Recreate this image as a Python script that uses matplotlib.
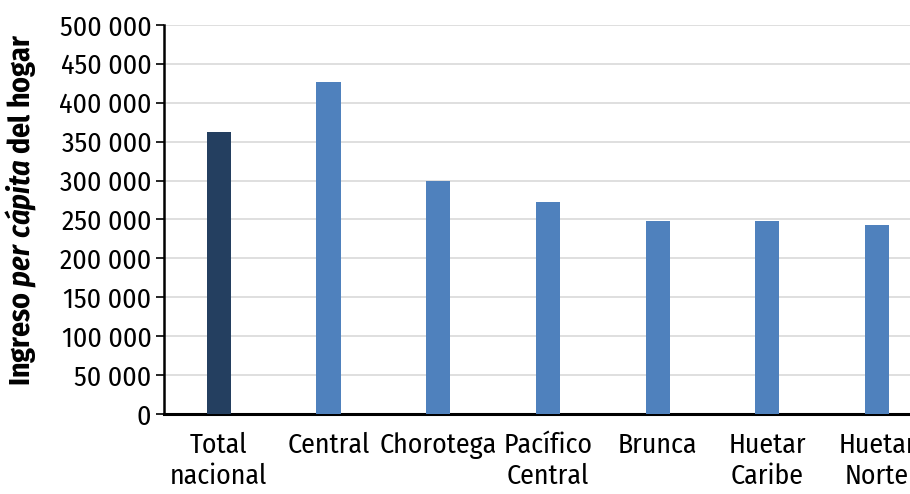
import matplotlib
matplotlib.use("Agg")
import matplotlib.pyplot as plt
from matplotlib.ticker import FuncFormatter
from matplotlib import font_manager

# Datos
regiones = ["Total\nnacional", "Central", "Chorotega", "Pacífico\nCentral",
            "Brunca", "Huetar\nCaribe", "Huetar\nNorte"]
ingreso = [363000, 427000, 299000, 272000, 248500, 248500, 242500]
colores = ["#243F60", "#4F81BD", "#4F81BD", "#4F81BD", "#4F81BD", "#4F81BD", "#4F81BD"]

nombres = {f.name for f in font_manager.fontManager.ttflist}
fuente = "DejaVu Sans"
for cand in ["Fira Sans Condensed", "Roboto Condensed", "Barlow Semi Condensed", "Asap Condensed"]:
    if cand in nombres:
        fuente = cand
        break
plt.rcParams["font.family"] = [fuente, "DejaVu Sans"]
plt.rcParams["mathtext.fontset"] = "custom"
plt.rcParams["mathtext.rm"] = fuente + ":bold"
plt.rcParams["mathtext.it"] = fuente + ":italic:bold"

fig = plt.figure(figsize=(9.1, 4.94), dpi=100)
ax = fig.add_axes([0.1802, 0.162, 0.8198, 0.7874])

x = list(range(len(regiones)))
ax.bar(x, ingreso, width=0.22, color=colores, zorder=3)

ax.set_ylim(0, 500000)
ax.set_xlim(-0.5, 6.3)
ax.set_yticks(range(0, 500001, 50000))
ax.yaxis.set_major_formatter(FuncFormatter(lambda v, p: f"{int(v):,}".replace(",", " ")))
ax.set_xticks(x)
ax.set_xticklabels(regiones, linespacing=1.2)
ax.tick_params(axis="x", length=0, labelsize=20, pad=13)
ax.tick_params(axis="y", length=6, width=1.2, labelsize=20, pad=3, direction="out")

ax.grid(axis="y", color="#d9d9d9", linewidth=1.2, zorder=0)
ax.spines["top"].set_visible(False)
ax.spines["right"].set_visible(False)
ax.spines["left"].set_linewidth(1.8)
ax.spines["bottom"].set_linewidth(2.2)

ax.set_ylabel(r"Ingreso $\mathit{per\ cápita}$ del hogar", fontsize=21.5, fontweight="bold")
ax.yaxis.set_label_coords(-0.169, 0.526)

fig.savefig("out.png", dpi=100)
